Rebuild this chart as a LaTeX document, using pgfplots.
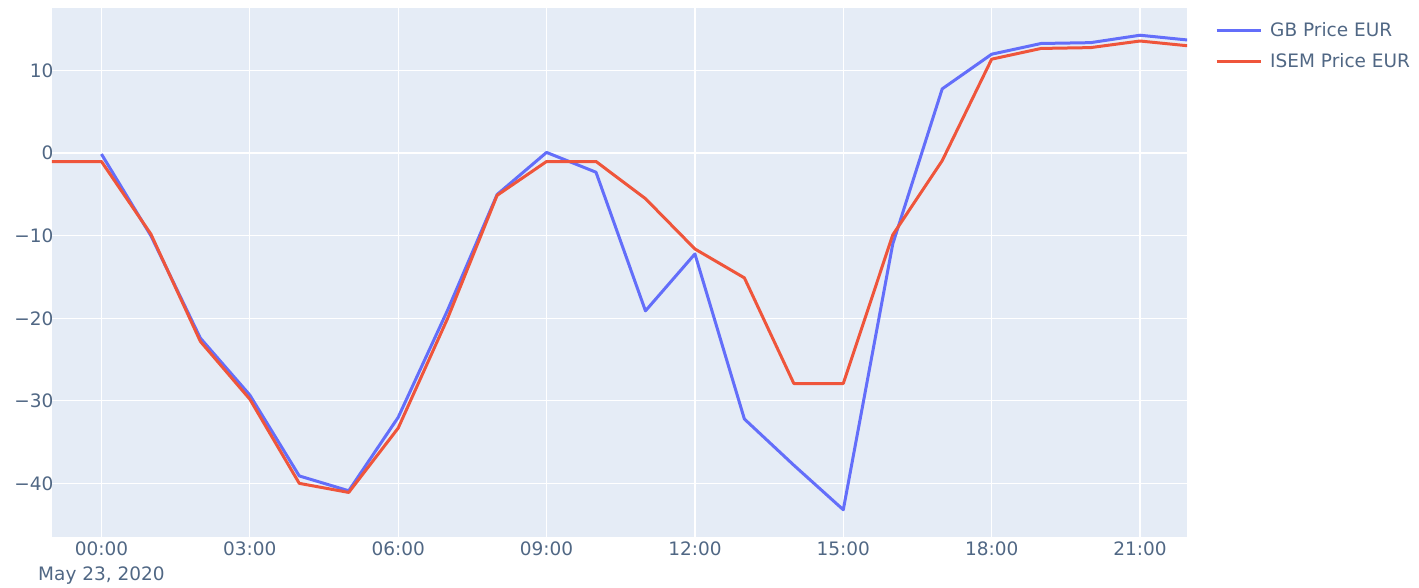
\documentclass[border=0pt]{standalone}
\usepackage{fontspec}
\setmainfont{DejaVu Sans}
\usepackage{pgfplots}
\pgfplotsset{compat=1.18}

\definecolor{plotbg}{HTML}{E5ECF6}
\definecolor{gbblue}{HTML}{636EFA}
\definecolor{isemred}{HTML}{EF553B}
\definecolor{labelcol}{HTML}{506784}

\begin{document}
\begin{tikzpicture}
\path[use as bounding box] (-52pt,-50pt) rectangle (1367pt,537pt);
\begin{axis}[
    at={(0,0)}, anchor=south west,
    scale only axis,
    width=1135pt, height=529pt,
    xmin=-1, xmax=21.95,
    ymin=-46.5, ymax=17.6,
    axis background/.style={fill=plotbg},
    axis line style={draw=none},
    major tick length=0pt,
    grid=major,
    major grid style={white, line width=1.3pt},
    xtick={0,3,...,21},
    xticklabels={{00:00\\May 23, 2020},03:00,06:00,09:00,12:00,15:00,18:00,21:00},
    xticklabel style={align=center, anchor=north, yshift=-1pt, font=\fontsize{18.5}{25}\selectfont, text=labelcol},
    ytick={-40,-30,-20,-10,0,10},
    yticklabels={−40,−30,−20,−10,0,10},
    yticklabel style={font=\fontsize{18.5}{20}\selectfont, text=labelcol, xshift=5pt},
    legend style={at={(rel axis cs:1.022,0.98)}, anchor=north west, draw=none, fill=none,
        font=\fontsize{18.5}{20}\selectfont, text=labelcol, row sep=11pt,
        /tikz/every even column/.append style={column sep=0pt}},
    legend cell align=left,
    legend image code/.code={\draw[#1] (0pt,0pt) -- (44pt,0pt);},
    legend style={/tikz/every odd column/.append style={inner xsep=0pt}, nodes={inner xsep=8pt}},
]
\draw[white, line width=2.4pt] (axis cs:-1,0) -- (axis cs:21.95,0);
\addplot[gbblue, line width=3pt, line join=round] coordinates {
(0,-0.1) (1,-10.0) (2,-22.4) (3,-29.3) (4,-39.1) (5,-40.9) (6,-32.0) (7,-19.0)
(8,-5.0) (9,0.1) (10,-2.3) (11,-19.1) (12,-12.2) (13,-32.2) (14,-37.8) (15,-43.2)
(16,-11.0) (17,7.8) (18,12.0) (19,13.3) (20,13.4) (21,14.3) (22,13.7)
};
\addlegendentry{GB Price EUR}
\addplot[isemred, line width=3pt, line join=round] coordinates {
(-1,-1.0) (0,-1.0) (1,-9.8) (2,-22.8) (3,-29.8) (4,-40.0) (5,-41.1) (6,-33.3)
(7,-20.0) (8,-5.1) (9,-1.0) (10,-1.0) (11,-5.5) (12,-11.6) (13,-15.1) (14,-27.9)
(15,-27.9) (16,-9.9) (17,-0.9) (18,11.4) (19,12.7) (20,12.8) (21,13.6) (22,13.0)
};
\addlegendentry{ISEM Price EUR}
\end{axis}
\end{tikzpicture}
\end{document}
